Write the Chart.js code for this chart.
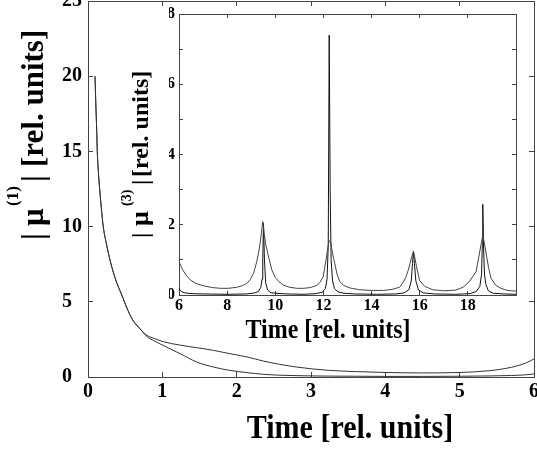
<!DOCTYPE html>
<html><head><meta charset="utf-8">
<script src="https://cdn.jsdelivr.net/npm/chart.js@4.4.0/dist/chart.umd.min.js"></script>
<style>
html,body{margin:0;padding:0;background:#fff;}
#wrap{position:relative;width:537px;height:449px;overflow:hidden;background:#fff;}
canvas{position:absolute;left:0;top:0;}
</style>
</head><body>
<div id="wrap"><canvas id="main" width="537" height="449"></canvas><canvas id="inset" width="537" height="449"></canvas></div>
<script>
// ---------- data: main plot ----------
const mainTime  = [0.094, 0.105, 0.117, 0.125, 0.14, 0.16, 0.18, 0.205, 0.25, 0.3, 0.37, 0.45, 0.54, 0.6, 0.7, 0.79, 0.9, 1.01, 1.24, 1.46, 1.69, 1.91, 2.14, 2.36, 2.58, 2.81, 3.03, 3.25, 3.6, 4.0, 4.5, 5.0, 5.4, 5.7, 5.9, 6.0];
const mainUpper = [20.0, 18.2, 16.4, 15.0, 13.6, 12.3, 11.2, 10.0, 8.8, 7.7, 6.5, 5.5, 4.4, 3.8, 3.2, 2.78, 2.55, 2.35, 2.12, 1.95, 1.77, 1.55, 1.33, 1.06, 0.84, 0.66, 0.53, 0.44, 0.36, 0.3, 0.27, 0.3, 0.42, 0.65, 0.95, 1.2];
const mainLower = [20.0, 18.2, 16.4, 15.0, 13.6, 12.3, 11.2, 10.0, 8.8, 7.7, 6.5, 5.5, 4.4, 3.8, 3.2, 2.7, 2.38, 2.1, 1.55, 1.0, 0.66, 0.44, 0.29, 0.18, 0.12, 0.09, 0.07, 0.06, 0.05, 0.04, 0.04, 0.05, 0.07, 0.1, 0.15, 0.2];
const mainXTicks  = [0, 1, 2, 3, 4, 5, 6];
const mainXLabels = ['0', '1', '2', '3', '4', '5', '6'];
const mainYTicks  = [0, 5, 10, 15, 20, 25];
const mainYLabels = ['0', '5', '10', '15', '20', '25'];

// ---------- data: inset ----------
const insetWideX = [6.0, 6.15, 6.3, 6.47, 6.7, 7.03, 7.4, 7.72, 8.05, 8.4, 8.65, 8.82, 8.96, 9.1, 9.23, 9.32, 9.37, 9.42, 9.48, 9.54, 9.6, 9.65, 9.75, 9.86, 10.0, 10.15, 10.34, 10.6, 10.9, 11.16, 11.45, 11.72, 11.86, 11.99, 12.06, 12.12, 12.18, 12.24, 12.3, 12.36, 12.42, 12.47, 12.57, 12.68, 12.85, 13.1, 13.5, 14.0, 14.5, 14.85, 15.16, 15.3, 15.42, 15.52, 15.6, 15.67, 15.74, 15.8, 15.87, 15.99, 16.2, 16.54, 17.0, 17.5, 17.8, 18.06, 18.34, 18.47, 18.55, 18.62, 18.68, 18.77, 18.86, 18.96, 19.15, 19.35, 19.58, 19.8, 20.0];
const insetWideY = [0.95, 0.72, 0.56, 0.43, 0.33, 0.26, 0.21, 0.19, 0.19, 0.22, 0.27, 0.33, 0.44, 0.62, 0.95, 1.25, 1.47, 1.75, 2.09, 1.75, 1.45, 1.3, 1.0, 0.71, 0.5, 0.38, 0.28, 0.22, 0.19, 0.19, 0.21, 0.27, 0.36, 0.52, 0.8, 1.05, 1.35, 1.55, 1.5, 1.25, 1.05, 0.9, 0.58, 0.38, 0.27, 0.2, 0.15, 0.13, 0.13, 0.16, 0.22, 0.35, 0.5, 0.7, 0.9, 1.1, 1.25, 1.05, 0.8, 0.42, 0.25, 0.15, 0.12, 0.14, 0.22, 0.38, 0.66, 1.14, 1.45, 1.7, 1.5, 1.14, 0.78, 0.48, 0.28, 0.2, 0.14, 0.12, 0.11];
const insetNarrowX = [6.0, 6.05, 6.12, 6.25, 6.5, 7.0, 8.0, 8.8, 9.15, 9.3, 9.4, 9.45, 9.48, 9.51, 9.55, 9.6, 9.68, 9.8, 10.0, 10.5, 11.2, 11.7, 11.95, 12.08, 12.15, 12.2, 12.24, 12.28, 12.32, 12.38, 12.46, 12.6, 12.85, 13.3, 14.2, 15.0, 15.35, 15.55, 15.65, 15.7, 15.74, 15.78, 15.84, 15.95, 16.15, 16.6, 17.5, 18.1, 18.35, 18.5, 18.57, 18.6, 18.62, 18.65, 18.69, 18.75, 18.85, 19.05, 19.5, 20.0];
const insetNarrowY = [0.19, 0.13, 0.09, 0.06, 0.04, 0.03, 0.02, 0.03, 0.06, 0.1, 0.22, 0.45, 1.0, 2.04, 1.0, 0.35, 0.14, 0.07, 0.05, 0.03, 0.02, 0.04, 0.08, 0.18, 0.45, 1.4, 7.4, 3.0, 1.0, 0.4, 0.18, 0.09, 0.05, 0.03, 0.02, 0.03, 0.06, 0.15, 0.4, 0.9, 1.22, 0.9, 0.4, 0.14, 0.06, 0.03, 0.02, 0.04, 0.1, 0.25, 0.6, 1.42, 2.58, 1.42, 0.6, 0.3, 0.12, 0.05, 0.03, 0.02];
const insetXTicks  = [6, 8, 10, 12, 14, 16, 18, 20];
const insetXLabels = ['6', '8', '10', '12', '14', '16', '18', ''];
const insetYTicks  = [0, 1, 2, 3, 4, 5, 6, 7, 8];
const insetYLabels = ['0', '', '2', '', '4', '', '6', '', '8'];

// ---------- text ----------
const mainXTitle = 'Time [rel. units]';
const insetXTitle = 'Time [rel. units]';
const mainYTitleParts  = ['|', 'μ', '(1)', '|', '[rel. units]'];
const insetYTitleParts = ['|', 'μ', '(3)', '|', '[rel. units]'];

// ---------- helpers ----------
const FONT = '"Liberation Serif", "Times New Roman", serif';
const AXC = '#444';
function zip(xs, ys) { return xs.map((x, i) => ({x: x, y: ys[i]})); }

function makeAxis(o) {
  return {
    type: 'linear', axis: o.axis, position: o.position, min: o.min, max: o.max,
    afterBuildTicks: s => { s.ticks = o.ticks.map(v => ({value: v})); },
    ticks: {
      display: !!o.labels,
      callback: (v, i) => o.labels ? o.labels[i] : '',
      font: {family: FONT, size: o.fontSize || 16, weight: 'bold'},
      color: '#000', padding: o.padding || 0, maxRotation: 0, autoSkip: false,
      crossAlign: o.crossAlign || 'near'
    },
    grid: {drawOnChartArea: false, drawTicks: true, tickLength: o.tl, color: AXC, lineWidth: 1},
    border: {display: true, color: AXC, width: 1},
    afterFit: s => {
      if (o.axis === 'x') s.height = o.size; else s.width = o.size;
      s.paddingLeft = 0; s.paddingRight = 0; s.paddingTop = 0; s.paddingBottom = 0;
    }
  };
}

function titlePlugin(id, hTitles, vTitles) {
  return {
    id: id,
    afterDraw(chart) {
      const ctx = chart.ctx;
      ctx.save();
      ctx.fillStyle = '#000';
      ctx.textBaseline = 'alphabetic';
      for (const h of hTitles) {
        ctx.save();
        ctx.translate(h.cx, h.base);
        ctx.scale(1, h.sy);
        ctx.font = 'bold ' + h.size + 'px ' + FONT;
        ctx.textAlign = 'center';
        ctx.fillText(h.text, 0, 0);
        ctx.restore();
      }
      for (const v of vTitles) {
        for (const seg of v.segs) {
          ctx.save();
          ctx.translate(v.base - seg.r, seg.y);
          ctx.rotate(-Math.PI / 2);
          ctx.font = 'bold ' + seg.s + 'px ' + FONT;
          ctx.textAlign = 'left';
          ctx.fillText(seg.t, 0, 0);
          ctx.restore();
        }
      }
      ctx.restore();
    }
  };
}

// ---------- main chart ----------
new Chart(document.getElementById('main'), {
  type: 'line',
  data: {datasets: [
    {data: zip(mainTime, mainUpper), borderColor: '#333', borderWidth: 1, pointRadius: 0, cubicInterpolationMode: 'monotone', fill: false},
    {data: zip(mainTime, mainLower), borderColor: '#333', borderWidth: 1, pointRadius: 0, cubicInterpolationMode: 'monotone', fill: false}
  ]},
  options: {
    responsive: false, animation: false, devicePixelRatio: 1, events: [],
    layout: {padding: {left: 62, right: 0, top: 0, bottom: 0}},
    plugins: {legend: {display: false}, tooltip: {enabled: false}},
    scales: {
      x:  makeAxis({axis: 'x', position: 'bottom', min: 0, max: 6, ticks: mainXTicks, labels: mainXLabels, fontSize: 20, padding: 8, tl: -5, size: 72}),
      x2: makeAxis({axis: 'x', position: 'top', min: 0, max: 6, ticks: mainXTicks, labels: null, tl: -5, size: 1}),
      y:  makeAxis({axis: 'y', position: 'left', min: 0, max: 25, ticks: mainYTicks, labels: mainYLabels, fontSize: 20, padding: 0, tl: -5, size: 26, crossAlign: 'far'}),
      y2: makeAxis({axis: 'y', position: 'right', min: 0, max: 25, ticks: mainYTicks, labels: null, tl: -5, size: 3})
    }
  },
  plugins: [titlePlugin('mainTitles',
    [{text: mainXTitle, cx: 350, base: 438, size: 30, sy: 1.13}],
    [{base: 43, segs: [
      {t: mainYTitleParts[0], s: 31, r: 0, y: 240},
      {t: mainYTitleParts[1], s: 31, r: 0, y: 226},
      {t: mainYTitleParts[2], s: 17, r: 25, y: 206},
      {t: mainYTitleParts[3], s: 31, r: 0, y: 182},
      {t: mainYTitleParts[4], s: 31, r: 0, y: 167}
    ]}]
  )]
});

// ---------- inset chart ----------
new Chart(document.getElementById('inset'), {
  type: 'line',
  data: {datasets: [
    {data: zip(insetWideX, insetWideY), borderColor: '#444', borderWidth: 1, pointRadius: 0, tension: 0, fill: false},
    {data: zip(insetNarrowX, insetNarrowY), borderColor: '#111', borderWidth: 1, pointRadius: 0, tension: 0, fill: false}
  ]},
  options: {
    responsive: false, animation: false, devicePixelRatio: 1, events: [],
    layout: {padding: {left: 169, right: 21, top: 14, bottom: 99}},
    plugins: {legend: {display: false}, tooltip: {enabled: false}},
    scales: {
      x:  makeAxis({axis: 'x', position: 'bottom', min: 6, max: 20, ticks: insetXTicks, labels: insetXLabels, fontSize: 16, padding: 5, tl: -4, size: 55}),
      x2: makeAxis({axis: 'x', position: 'top', min: 6, max: 20, ticks: insetXTicks, labels: null, tl: -4, size: 0}),
      y:  makeAxis({axis: 'y', position: 'left', min: 0, max: 8, ticks: insetYTicks, labels: insetYLabels, fontSize: 16, padding: 8, tl: -4, size: 10}),
      y2: makeAxis({axis: 'y', position: 'right', min: 0, max: 8, ticks: insetYTicks, labels: null, tl: -4, size: 0})
    }
  },
  plugins: [titlePlugin('insetTitles',
    [{text: insetXTitle, cx: 328, base: 338, size: 24, sy: 1.13}],
    [{base: 148, segs: [
      {t: insetYTitleParts[0], s: 24, r: 0, y: 238},
      {t: insetYTitleParts[1], s: 26, r: 0, y: 226},
      {t: insetYTitleParts[2], s: 14, r: 17, y: 206},
      {t: insetYTitleParts[3], s: 24, r: 0, y: 185},
      {t: insetYTitleParts[4], s: 24, r: 0, y: 177}
    ]}]
  )]
});
</script>
</body></html>
